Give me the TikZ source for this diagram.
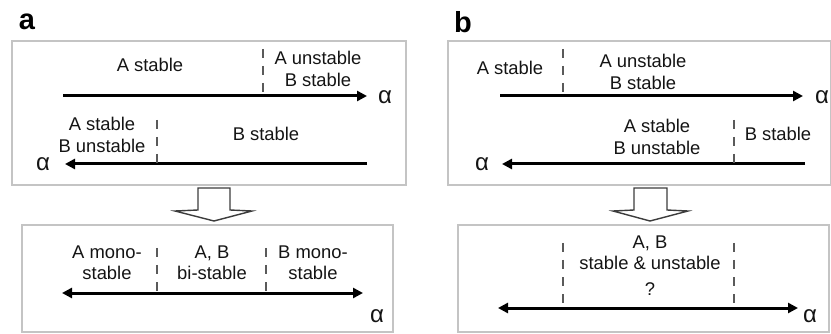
\documentclass[tikz,border=0pt]{standalone}
\usepackage{fontspec}
\setmainfont{Liberation Sans}
\usetikzlibrary{arrows.meta}
\definecolor{framegray}{RGB}{196,196,196}
\definecolor{dashgray}{RGB}{90,90,90}
\definecolor{outlinegray}{RGB}{60,60,60}
\definecolor{inkgray}{RGB}{20,20,20}
\begin{document}
\begin{tikzpicture}[x=1pt,y=-1pt,
  frame/.style={draw=framegray,line width=1.4pt},
  axis/.style={line width=3pt,-{Triangle[length=10pt,width=10pt]}},
  biaxis/.style={line width=3pt,{Triangle[length=10pt,width=10pt]}-{Triangle[length=10pt,width=10pt]}},
  divider/.style={draw=dashgray,line width=1.8pt,dash pattern=on 9pt off 8pt},
  lbl/.style={align=center,inner sep=0pt,text=inkgray,font=\fontsize{18.4}{21.5}\selectfont},
  alph/.style={inner sep=0pt,text=inkgray,font=\fontsize{24}{24}\selectfont},
  panel/.style={inner sep=0pt,font=\fontsize{29}{29}\selectfont\bfseries},
  blockarrow/.style={draw=outlinegray,fill=white,line width=1.4pt,line join=miter}
]
\useasboundingbox (0,0) rectangle (831,334);

% ---------------- panel a ----------------
\node[panel] (pa) at (27,22) {a};
\draw[frame] (12,41) rectangle (406,185);

% forward sweep
\coordinate (a1s) at (63,96);
\coordinate (a1e) at (367,96);
\coordinate (a1d) at (263,49);
\coordinate (a1m) at (263,96);
\draw[axis] (a1s) -- (a1e);
\draw[divider] (a1d) -- (a1m);
\node[lbl] (a1l) at (150,65) {A stable};
\node[lbl] (a1r) at (318,69) {A unstable\\B stable};
\node[alph] (a1a) at (385,97) {α};

% backward sweep
\coordinate (a2s) at (367,164);
\coordinate (a2e) at (65,164);
\coordinate (a2d) at (157,120);
\coordinate (a2m) at (157,164);
\draw[axis] (a2s) -- (a2e);
\draw[divider] (a2d) -- (a2m);
\node[lbl] (a2l) at (102,135) {A stable\\B unstable};
\node[lbl] (a2r) at (266,134) {B stable};
\node[alph] (a2a) at (43,164) {α};

% block arrow
\draw[blockarrow] (198,188) -- (230,188) -- (230,210) -- (252,211) -- (214,221)
  -- (175,211) -- (198,210) -- cycle;

% result
\draw[frame] (22,225) rectangle (393,332);
\coordinate (a3s) at (62,293);
\coordinate (a3e) at (363,293);
\coordinate (a3d1) at (157,248);
\coordinate (a3m1) at (157,293);
\coordinate (a3d2) at (266,248);
\coordinate (a3m2) at (266,293);
\draw[biaxis] (a3s) -- (a3e);
\draw[divider] (a3d1) -- (a3m1);
\draw[divider] (a3d2) -- (a3m2);
\node[lbl] (a3l) at (107,263) {A mono-\\stable};
\node[lbl] (a3c) at (212,263) {A, B\\bi-stable};
\node[lbl] (a3r) at (313,263) {B mono-\\stable};
\node[alph] (a3a) at (377,316) {α};

% ---------------- panel b ----------------
\node[panel] (pb) at (463,22) {b};
\draw[frame] (448,41) rectangle (831,185);

% forward sweep
\coordinate (b1s) at (500,96);
\coordinate (b1e) at (803,96);
\coordinate (b1d) at (563,49);
\coordinate (b1m) at (563,96);
\draw[axis] (b1s) -- (b1e);
\draw[divider] (b1d) -- (b1m);
\node[lbl] (b1l) at (510,68) {A stable};
\node[lbl] (b1r) at (643,72) {A unstable\\B stable};
\node[alph] (b1a) at (822,97) {α};

% backward sweep
\coordinate (b2s) at (805,164);
\coordinate (b2e) at (502,164);
\coordinate (b2d) at (734,120);
\coordinate (b2m) at (734,164);
\draw[axis] (b2s) -- (b2e);
\draw[divider] (b2d) -- (b2m);
\node[lbl] (b2l) at (657,137) {A stable\\B unstable};
\node[lbl] (b2r) at (778,134) {B stable};
\node[alph] (b2a) at (482,164) {α};

% block arrow
\draw[blockarrow] (634,188) -- (667,188) -- (667,210) -- (688,211) -- (650,221)
  -- (613,211) -- (634,210) -- cycle;

% result
\draw[frame] (458,225) rectangle (829,332);
\coordinate (b3s) at (498,308);
\coordinate (b3e) at (798,308);
\coordinate (b3d1) at (563,243);
\coordinate (b3m1) at (563,308);
\coordinate (b3d2) at (734,243);
\coordinate (b3m2) at (734,308);
\draw[biaxis] (b3s) -- (b3e);
\draw[divider] (b3d1) -- (b3m1);
\draw[divider] (b3d2) -- (b3m2);
\node[lbl] (b3c) at (650,253) {A, B\\stable \& unstable};
\node[lbl] (b3q) at (650,289) {?};
\node[alph] (b3a) at (810,316) {α};
\end{tikzpicture}
\end{document}
